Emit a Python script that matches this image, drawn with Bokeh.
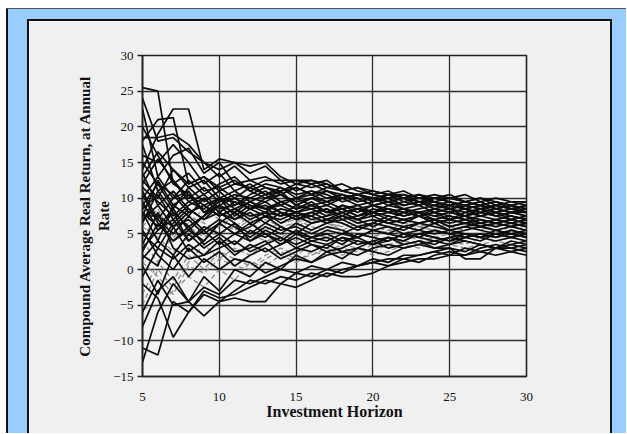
from bokeh.plotting import figure
from bokeh.layouts import column, row
from bokeh.models import FixedTicker, Range1d, Spacer
from bokeh.embed import file_html
from bokeh.resources import INLINE

# Investment horizon (years) and axis ticks
horizon = list(range(5, 31))
x_ticks = [5, 10, 15, 20, 25, 30]
y_ticks = [-15, -10, -5, 0, 5, 10, 15, 20, 25, 30]

# Compound average real return paths, x = 5..30
r01 = [25.5, 25.0, 12.0, 10.5, 9.0, 10.0, 9.5, 8.5, 9.0, 8.0, 7.5, 8.0, 7.0, 7.5, 6.5, 7.0, 6.5, 6.0, 6.5, 6.0, 5.5, 6.0, 5.5, 5.0, 5.5, 5.0]
r02 = [18.0, 21.0, 21.3, 12.0, 13.0, 11.5, 12.5, 11.0, 12.0, 11.5, 10.5, 11.0, 10.0, 10.5, 9.5, 10.0, 9.5, 9.0, 9.5, 8.5, 9.0, 8.5, 8.0, 8.5, 8.0, 7.5]
r03 = [14.0, 19.0, 22.5, 22.5, 14.0, 15.5, 15.0, 13.5, 14.5, 12.5, 12.5, 12.0, 12.5, 11.0, 10.5, 11.0, 10.5, 10.0, 10.5, 9.5, 10.0, 9.5, 9.0, 9.5, 8.5, 9.0]
r04 = [24.0, 18.0, 18.5, 16.5, 15.0, 13.0, 14.5, 12.5, 13.0, 12.0, 12.5, 12.5, 11.5, 11.0, 10.5, 10.0, 10.5, 10.5, 9.5, 10.0, 10.0, 9.5, 10.0, 9.0, 9.5, 9.5]
r05 = [18.5, 18.5, 19.0, 17.5, 15.0, 14.0, 15.0, 14.5, 15.0, 13.0, 12.0, 12.5, 12.0, 11.0, 11.5, 10.5, 10.0, 10.5, 10.0, 10.0, 9.5, 9.0, 9.5, 8.5, 9.0, 8.5]
r06 = [22.5, 13.0, 16.0, 17.0, 13.5, 15.0, 12.0, 11.5, 12.5, 12.5, 11.0, 12.0, 11.0, 10.0, 10.5, 9.5, 10.0, 9.0, 9.5, 9.5, 9.0, 8.5, 9.0, 8.0, 8.5, 8.0]
r07 = [16.0, 15.0, 17.5, 15.0, 12.0, 13.5, 11.0, 12.0, 10.5, 11.5, 10.0, 11.0, 10.5, 9.5, 10.0, 9.0, 9.5, 8.5, 9.0, 8.0, 8.5, 7.5, 8.0, 7.5, 7.0, 7.5]
r08 = [12.0, 15.5, 12.5, 10.0, 11.5, 9.5, 10.5, 10.0, 11.0, 9.5, 10.0, 9.0, 9.5, 8.5, 9.0, 8.0, 8.5, 8.0, 7.5, 8.0, 7.0, 7.5, 7.0, 6.5, 7.0, 6.5]
r09 = [10.0, 13.0, 10.0, 11.0, 8.0, 9.5, 10.0, 9.0, 8.5, 9.5, 8.5, 9.0, 8.0, 8.5, 7.5, 8.5, 8.0, 7.5, 8.0, 7.0, 7.5, 7.0, 6.5, 7.0, 6.5, 6.0]
r10 = [8.5, 10.5, 7.0, 9.0, 10.0, 8.0, 9.5, 8.5, 7.5, 8.5, 8.0, 7.0, 7.5, 8.0, 7.0, 7.5, 6.5, 7.0, 6.5, 7.0, 6.0, 6.5, 6.0, 6.5, 6.0, 5.5]
r11 = [7.0, 9.0, 11.0, 8.5, 7.0, 9.0, 8.0, 9.5, 8.5, 9.0, 8.0, 8.5, 9.0, 8.0, 8.5, 7.5, 8.0, 8.5, 7.5, 8.0, 7.5, 7.0, 7.5, 8.0, 7.5, 7.0]
r12 = [6.0, 8.5, 4.5, 6.5, 8.5, 7.0, 5.5, 7.0, 6.5, 7.5, 6.0, 7.0, 6.5, 5.5, 6.5, 6.0, 7.0, 6.5, 6.0, 6.5, 6.0, 5.5, 6.0, 5.5, 6.0, 5.5]
r13 = [4.5, 7.5, 9.5, 6.0, 4.5, 6.0, 7.5, 6.5, 5.5, 6.5, 7.0, 6.0, 5.5, 6.5, 5.5, 6.0, 5.5, 6.5, 6.0, 5.5, 6.0, 6.5, 5.5, 6.0, 5.5, 6.0]
r14 = [3.0, 5.5, 8.0, 4.0, 5.5, 3.5, 5.0, 4.0, 5.5, 4.5, 3.5, 4.5, 5.0, 4.0, 4.5, 3.5, 4.5, 4.0, 5.0, 4.5, 4.0, 4.5, 5.0, 4.5, 5.0, 4.5]
r15 = [1.5, 4.0, 2.0, 5.0, 3.0, 4.5, 2.5, 3.0, 4.0, 2.0, 3.0, 2.5, 3.5, 2.5, 3.0, 4.0, 3.0, 3.5, 4.0, 3.0, 3.5, 4.0, 3.5, 3.0, 4.0, 3.5]
r16 = [-13.0, -6.0, -2.0, -4.5, -2.5, -3.5, -1.5, -2.0, -1.0, 0.0, -0.5, 0.5, 0.0, 1.0, 0.5, 1.5, 1.0, 2.0, 2.0, 2.5, 3.0, 2.5, 3.5, 3.0, 3.5, 4.0]
r17 = [-11.0, -12.0, -4.5, -6.0, -3.0, -4.0, -3.5, -2.5, -1.5, -2.0, -0.5, -1.0, 0.0, -0.5, 0.5, 1.0, 0.5, 1.5, 1.0, 2.0, 2.5, 2.0, 3.0, 3.5, 3.0, 3.5]
r18 = [-2.0, -4.0, -9.5, -6.0, -3.5, -4.5, -4.0, -4.5, -4.5, -2.0, -2.5, -1.5, -0.5, -1.0, -1.0, -0.5, 0.5, 1.0, 1.5, 1.5, 2.0, 2.0, 2.5, 2.0, 2.5, 2.0]
r19 = [-8.0, -3.0, -1.0, -4.5, -6.5, -4.5, -3.0, -1.5, -2.0, -1.0, -1.5, -0.5, -1.0, 0.0, 0.5, 1.0, 1.5, 1.5, 2.0, 2.5, 2.0, 3.0, 2.5, 3.0, 3.0, 2.5]
r20 = [0.5, -3.5, 2.0, -1.0, 1.5, 0.0, 1.5, 1.0, -0.5, 0.5, 1.5, 1.0, 2.0, 2.5, 2.0, 3.0, 3.5, 3.0, 3.5, 3.0, 3.0, 1.5, 1.5, 3.0, 2.5, 3.0]
r21 = [5.5, 2.0, 0.0, 3.0, 1.0, 2.5, 0.5, 2.0, 3.0, 1.5, 2.5, 3.5, 2.5, 3.0, 4.0, 3.5, 4.5, 4.0, 5.0, 4.5, 4.0, 5.0, 4.5, 5.5, 5.0, 4.5]
r22 = [9.5, 5.5, 7.0, 4.0, 6.0, 5.0, 3.5, 5.5, 4.5, 6.0, 5.0, 4.5, 5.5, 5.0, 6.0, 5.5, 5.0, 6.0, 5.5, 5.0, 5.5, 5.0, 4.5, 5.0, 4.5, 5.0]
r23 = [11.0, 7.0, 5.0, 7.5, 5.5, 7.0, 6.0, 4.5, 6.0, 5.0, 6.5, 5.5, 6.5, 7.0, 6.0, 6.5, 7.5, 7.0, 7.5, 6.5, 7.0, 6.5, 7.0, 6.5, 7.0, 6.5]
r24 = [13.5, 9.0, 6.0, 8.0, 9.0, 7.5, 8.5, 7.0, 8.0, 7.5, 9.0, 8.5, 7.5, 9.0, 8.0, 9.0, 8.5, 8.0, 8.5, 9.0, 8.5, 8.0, 8.5, 7.5, 8.0, 7.5]
r25 = [17.5, 11.0, 12.5, 9.5, 10.5, 8.5, 9.0, 10.0, 9.5, 10.5, 9.5, 10.0, 11.0, 10.5, 9.5, 10.0, 9.0, 9.5, 10.0, 9.5, 9.0, 9.5, 10.0, 9.5, 9.0, 9.5]
r26 = [20.0, 16.0, 12.0, 13.5, 11.0, 11.5, 10.0, 11.5, 10.5, 11.0, 12.0, 11.5, 12.0, 11.0, 11.5, 11.0, 10.5, 11.0, 10.0, 10.5, 10.0, 10.5, 9.5, 10.0, 9.5, 9.0]
r27 = [7.5, 12.5, 9.0, 7.5, 10.0, 8.0, 7.0, 8.5, 9.5, 8.0, 7.0, 8.0, 8.5, 7.5, 8.5, 9.0, 8.0, 7.5, 8.0, 7.5, 8.0, 7.5, 8.5, 8.0, 7.0, 7.5]
r28 = [2.0, 0.5, 6.0, 2.5, 4.0, 6.5, 5.0, 6.5, 5.0, 4.0, 5.5, 4.5, 4.0, 5.0, 4.5, 5.5, 6.0, 5.0, 5.5, 6.5, 5.5, 6.0, 6.5, 6.0, 6.5, 7.0]
r29 = [-5.0, 0.0, -2.5, 1.0, 3.5, 1.5, 3.0, 2.0, 3.5, 5.0, 4.0, 5.5, 4.5, 4.0, 5.0, 4.5, 5.5, 5.0, 6.0, 5.5, 5.0, 6.0, 5.5, 6.5, 6.0, 5.5]
r30 = [-6.0, -1.5, -5.0, -4.5, -1.0, -3.0, 0.0, -1.0, 1.0, 0.0, 2.0, 1.0, 2.5, 1.5, 3.0, 2.5, 2.0, 3.0, 3.5, 4.0, 3.5, 4.5, 4.0, 5.0, 4.5, 5.0]
r31 = [8.0, 4.0, 9.0, 10.5, 8.0, 9.0, 10.0, 8.5, 10.0, 11.0, 9.0, 10.0, 9.5, 10.5, 10.0, 9.0, 9.5, 10.0, 9.0, 9.5, 8.5, 9.0, 9.5, 8.5, 9.0, 8.5]
r32 = [6.5, 11.0, 8.0, 6.0, 7.5, 10.0, 8.5, 7.5, 8.0, 6.5, 7.5, 6.5, 7.0, 8.0, 7.0, 8.0, 7.5, 7.0, 7.5, 6.5, 7.0, 7.5, 6.5, 7.0, 6.5, 6.0]
r33 = [4.0, 1.0, 5.0, 7.5, 6.5, 5.0, 6.0, 7.5, 7.0, 6.0, 6.5, 7.5, 6.5, 6.0, 7.0, 7.5, 6.5, 7.0, 6.0, 6.5, 7.5, 7.0, 6.5, 7.0, 7.5, 7.0]
r34 = [10.5, 6.5, 4.0, 5.5, 4.0, 6.5, 5.0, 6.0, 7.5, 6.0, 5.0, 6.5, 7.0, 6.5, 5.5, 6.5, 6.0, 5.5, 6.5, 7.0, 6.0, 6.5, 6.0, 5.5, 6.0, 6.5]
r35 = [3.5, 8.0, 3.0, 1.5, 2.0, 4.0, 2.0, 3.5, 2.5, 3.5, 4.5, 3.5, 3.0, 4.5, 4.0, 3.5, 4.0, 5.0, 4.5, 4.0, 4.5, 5.0, 4.5, 4.0, 4.5, 4.0]
r36 = [9.0, 7.0, 10.0, 12.5, 10.5, 12.0, 13.0, 11.0, 10.0, 10.5, 11.5, 10.5, 11.5, 12.0, 11.0, 10.5, 11.0, 10.0, 10.5, 10.0, 10.5, 9.5, 9.0, 9.5, 9.0, 8.0]
r37 = [12.5, 10.0, 14.0, 11.5, 9.5, 11.0, 9.0, 10.5, 11.5, 10.5, 9.0, 10.0, 9.0, 10.0, 10.5, 9.5, 10.5, 9.5, 9.0, 10.0, 9.5, 8.5, 9.0, 8.5, 8.0, 8.5]
r38 = [5.0, 3.0, 6.5, 8.5, 7.0, 8.0, 6.5, 5.0, 6.5, 5.5, 6.0, 5.0, 6.0, 5.5, 4.5, 5.5, 5.0, 4.5, 5.0, 5.5, 5.0, 5.5, 6.0, 5.5, 5.0, 5.5]
r39 = [-5.5, -5.0, -3.0, -1.0, -2.5, 0.0, -1.5, 1.0, 0.5, 2.0, 1.0, 2.5, 2.0, 3.0, 2.5, 3.5, 3.0, 4.0, 3.5, 4.5, 4.0, 3.5, 4.5, 4.0, 4.5, 4.0]
r40 = [1.0, -1.0, -3.5, 0.5, -0.5, 1.5, 0.5, 0.0, 1.5, 2.5, 1.5, 2.0, 3.0, 2.0, 3.0, 2.0, 2.5, 3.5, 3.0, 4.0, 3.5, 3.0, 3.5, 4.0, 3.5, 4.0]
r41 = [15.0, 12.0, 8.5, 11.5, 12.5, 10.0, 11.0, 9.5, 10.5, 9.0, 10.0, 10.5, 9.5, 10.0, 9.0, 9.5, 10.0, 9.0, 9.5, 9.0, 8.5, 9.0, 8.5, 9.0, 8.5, 8.0]
r42 = [8.0, 6.0, 8.5, 5.5, 7.5, 9.0, 7.0, 8.0, 6.5, 8.0, 7.0, 7.5, 6.5, 7.5, 7.0, 6.0, 7.0, 6.5, 7.5, 7.0, 6.5, 7.0, 6.0, 6.5, 6.0, 6.5]
r43 = [2.5, 6.5, 4.0, 6.0, 3.5, 5.0, 6.5, 4.0, 5.0, 3.5, 5.0, 4.0, 4.5, 3.5, 5.0, 4.5, 4.0, 5.0, 4.5, 5.5, 5.0, 4.5, 5.0, 4.5, 5.5, 5.0]
r44 = [11.5, 9.5, 7.5, 9.5, 8.5, 10.0, 7.5, 9.0, 8.0, 9.5, 8.5, 9.5, 8.0, 9.0, 8.5, 8.0, 9.0, 8.5, 8.0, 8.5, 8.0, 8.5, 7.5, 8.0, 7.5, 7.0]
r45 = [-1.0, 3.0, 1.5, 3.5, 2.0, 3.0, 4.0, 2.5, 3.5, 4.5, 3.0, 4.0, 3.5, 4.5, 3.5, 4.0, 4.5, 3.5, 4.0, 3.5, 4.5, 4.0, 3.5, 3.0, 3.5, 3.0]
r46 = [13.0, 16.5, 14.0, 12.0, 13.0, 11.0, 12.0, 12.5, 11.5, 11.0, 11.5, 10.5, 11.0, 10.0, 10.5, 10.0, 9.5, 10.0, 9.5, 9.0, 9.5, 9.0, 8.5, 9.0, 8.5, 9.0]
r47 = [6.0, 4.5, 2.5, 4.5, 6.0, 4.5, 3.5, 5.0, 4.0, 4.5, 5.5, 5.0, 4.5, 5.5, 5.0, 4.5, 5.5, 5.0, 4.0, 4.5, 5.0, 4.5, 5.0, 5.5, 5.0, 5.5]
r48 = [9.0, 12.0, 10.5, 8.0, 9.0, 7.5, 8.5, 9.5, 8.5, 7.5, 8.0, 9.0, 8.0, 8.5, 7.5, 8.0, 8.5, 7.5, 8.0, 7.5, 7.0, 8.0, 7.5, 7.0, 7.5, 7.0]
r49 = [-3.5, 1.0, -1.5, 2.0, 0.0, 2.5, 1.5, 0.5, 2.0, 3.0, 2.0, 3.5, 2.5, 3.5, 3.0, 2.5, 3.5, 4.0, 3.5, 4.5, 4.0, 4.5, 5.0, 4.5, 5.0, 5.5]
r50 = [7.5, 7.5, 6.0, 7.0, 5.0, 6.5, 8.0, 6.5, 7.5, 7.0, 8.0, 7.5, 8.5, 7.0, 7.5, 8.0, 7.0, 8.0, 7.5, 8.5, 8.0, 7.5, 8.0, 7.5, 8.0, 8.0]

solid_paths = [r01, r02, r03, r04, r05, r06, r07, r08, r09, r10, r11, r14, r15, r16,
               r17, r18, r19, r20, r21, r22, r23, r24, r25, r26, r27, r28, r30, r31,
               r32, r34, r35, r36, r37, r38, r41, r42, r43, r44, r45, r46, r48, r50]
gray_paths = [r12, r13, r29, r33, r39, r40, r47, r49]

FONT = "Liberation Serif"
BLUE = "#99ccff"
WHITE = "#ffffff"
EDGE = "#555555"
INK = "#111111"

H = 412          # height of the page area
W = 581          # width of the page area

p = figure(width=W, height=H,
           x_range=Range1d(5, 30), y_range=Range1d(-15, 30),
           output_backend="svg", toolbar_location=None,
           min_border_left=113, min_border_right=84,
           min_border_top=34, min_border_bottom=57,
           background_fill_color="#f3f3f3", border_fill_color="#f0f0f0",
           outline_line_color="#222222", outline_line_width=1.6,
           x_axis_label="Investment Horizon",
           y_axis_label="Compound Average Real Return, at Annual\nRate")

for path in gray_paths:
    p.line(horizon, path, line_color="#8a8a8a", line_width=1.3, line_dash="5 3")
for path in solid_paths:
    p.line(horizon, path, line_color="#0d0d0d", line_width=1.7)

p.xaxis.ticker = FixedTicker(ticks=x_ticks)
p.yaxis.ticker = FixedTicker(ticks=y_ticks)
p.xaxis.minor_tick_line_color = None
p.yaxis.minor_tick_line_color = None
p.xaxis.major_tick_out = 0
p.xaxis.major_tick_in = 0
p.yaxis.major_tick_out = 5
p.yaxis.major_tick_in = 0
p.axis.axis_line_color = "#222222"
p.axis.axis_line_width = 1.6
p.axis.major_tick_line_color = "#222222"
p.axis.major_tick_line_width = 1.3
p.axis.major_label_text_font = FONT
p.axis.major_label_text_font_size = "13px"
p.axis.major_label_text_color = "#111111"
p.xaxis.major_label_standoff = 16
p.yaxis.major_label_standoff = 4
p.axis.axis_label_text_font = FONT
p.axis.axis_label_text_font_style = "bold"
p.axis.axis_label_text_color = "#111111"
p.xaxis.axis_label_text_font_size = "16px"
p.yaxis.axis_label_text_font_size = "15px"
p.yaxis.axis_label_text_line_height = 1.2
p.xaxis.axis_label_standoff = -1
p.yaxis.axis_label_standoff = -2

p.grid.grid_line_color = "#2e2e2e"
p.grid.grid_line_width = 1.3


def strip(w, h, color):
    return Spacer(width=w, height=h, styles={"background-color": color})


frame = column(
    strip(626, 8, WHITE),
    row(strip(6, 1, WHITE), strip(620, 1, EDGE), spacing=0),
    row(strip(6, 10, WHITE), strip(2, 10, INK), strip(618, 10, BLUE), spacing=0),
    row(strip(6, 2, WHITE), strip(2, 2, INK), strip(19, 2, BLUE),
        strip(W + 4, 2, INK), strip(14, 2, BLUE), spacing=0),
    row(strip(6, H, WHITE), strip(2, H, INK), strip(19, H, BLUE), strip(2, H, INK), p,
        strip(2, H, INK), strip(14, H, BLUE), spacing=0),
    spacing=0)

open("out.html", "w").write(file_html(frame, INLINE))
